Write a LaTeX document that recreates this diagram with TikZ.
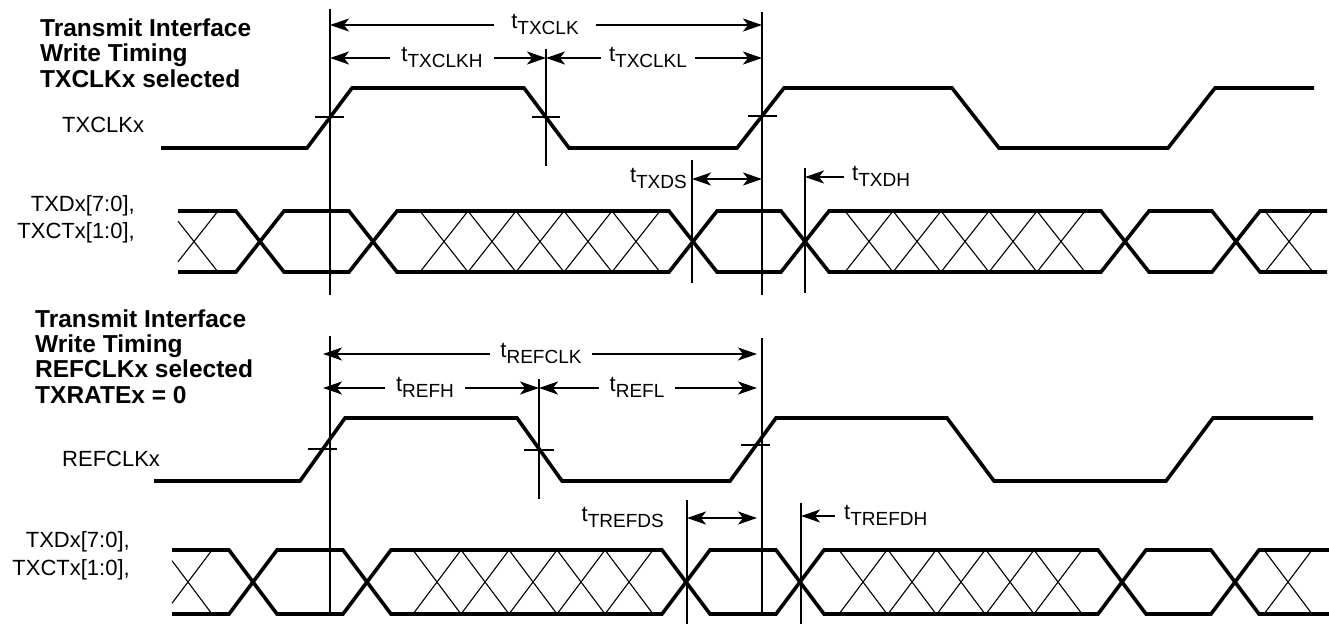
\documentclass[tikz,border=0pt]{standalone}
\usepackage{fontspec}
\setmainfont{Liberation Sans}
\usetikzlibrary{arrows.meta}

\tikzset{
  wave/.style={line width=3.6pt},
  hatch/.style={line width=1.1pt},
  guide/.style={line width=1.8pt},
  edgetick/.style={line width=1.6pt},
  dim/.style={line width=1.8pt,->},
  dimboth/.style={line width=1.8pt,<->},
  title/.style={font=\fontsize{24.5}{25.3}\selectfont\bfseries,align=left,anchor=base west,inner sep=0pt},
  sig/.style={font=\fontsize{22}{27.5}\selectfont,inner sep=0pt},
  tlabel/.style={font=\fontsize{22}{22}\selectfont,inner sep=0pt,text height=10pt,text depth=4pt}
}
\newcommand{\tsub}[1]{t\raisebox{-6pt}{\fontsize{19}{19}\selectfont #1}}

\begin{document}
\begin{tikzpicture}[x=1pt,y=-1pt,>={Stealth[length=19pt,width=13pt,inset=5pt]}]
        \useasboundingbox (0,0) rectangle (1329,624);

        % TXCLKx selected
        \node[title] (ttl1) at (40,87) {Transmit Interface\\Write Timing\\TXCLKx selected};
        \node[sig,anchor=base west] (ltxclk) at (62,132.7) {TXCLKx};
        \node[sig,anchor=base east,align=right] (ltxd) at (135,238.5) {TXDx[7:0],\\TXCTx[1:0],};

        \coordinate (r1) at (330,9);
        \coordinate (f1) at (546,49);
        \coordinate (r2) at (762,12);
        \coordinate (ds) at (692,160);
        \coordinate (dh) at (805,168);
        \draw[guide] (r1) -- (330,295);
        \draw[guide] (f1) -- (546,166);
        \draw[guide] (r2) -- (762,295);
        \draw[guide] (ds) -- (692,283);
        \draw[guide] (dh) -- (805,293);

        \draw[wave] (161,148) -- (307,148) -- (352,88) -- (524,88) -- (569,148) -- (737,148)
          -- (784,88) -- (952,88) -- (999,148) -- (1168,148) -- (1215,88) -- (1314,88);
        \draw[edgetick] (315,117) -- (344,117);
        \draw[edgetick] (532,117) -- (560,117);
        \draw[edgetick] (748,116) -- (777,116);

        \draw[wave] (178,211) -- (236,211) -- (284,272) -- (349,272) -- (397,211) -- (669,211) -- (717,272)
          -- (781,272) -- (829,211) -- (1101,211) -- (1149,272) -- (1212,272) -- (1260,211) -- (1327,211);
        \draw[wave] (178,272) -- (236,272) -- (284,211) -- (349,211) -- (397,272) -- (669,272) -- (717,211)
          -- (781,211) -- (829,272) -- (1101,272) -- (1149,211) -- (1212,211) -- (1260,272) -- (1327,272);
        \draw[hatch] (178,221.2) -- (218,272) (178,261.8) -- (218,211);
        \foreach \x in {420,468,516,564,612,845,893,941,989,1037,1265}
          \draw[hatch] (\x,211) -- ++(48,61) (\x,272) -- ++(48,-61);

        \node[tlabel,minimum width=101pt] (ttxclk) at (545,25) {\tsub{TXCLK}};
        \node[tlabel,minimum width=104pt] (ttxclkh) at (442,58) {\tsub{TXCLKH}};
        \node[tlabel,minimum width=94pt] (ttxclkl) at (648,58) {\tsub{TXCLKL}};
        \node[tlabel,anchor=east] (ttxds) at (687,179) {\tsub{TXDS}};
        \node[tlabel,anchor=west] (ttxdh) at (852,177) {\tsub{TXDH}};
        \draw[dim] (ttxclk.west) -- (ttxclk.west -| r1);
        \draw[dim] (ttxclk.east) -- (ttxclk.east -| r2);
        \draw[dim] (ttxclkh.west) -- (ttxclkh.west -| r1);
        \draw[dim] (ttxclkh.east) -- (ttxclkh.east -| f1);
        \draw[dim] (ttxclkl.west) -- (ttxclkl.west -| f1);
        \draw[dim] (ttxclkl.east) -- (ttxclkl.east -| r2);
        \draw[dimboth] (ttxds.east -| ds) -- (ttxds.east -| r2);
        \draw[dim] ([xshift=-8pt]ttxdh.west) -- (ttxdh.west -| dh);

        % REFCLKx selected
        \node[title] (ttl2) at (35,403) {Transmit Interface\\Write Timing\\REFCLKx selected\\TXRATEx = 0};
        \node[sig,anchor=base west] (lrefclk) at (62,466.5) {REFCLKx};
        \node[sig,anchor=base east,align=right] (lrefd) at (130,575) {TXDx[7:0],\\TXCTx[1:0],};

        \coordinate (br1) at (330,336);
        \coordinate (bf1) at (539,379);
        \coordinate (br2) at (762,338);
        \coordinate (bds) at (687,500);
        \coordinate (bdh) at (801,503);
        \coordinate (hl) at (323,354);
        \coordinate (hr) at (757,354);
        \draw[guide] (br1) -- (330,614);
        \draw[guide] (bf1) -- (539,499);
        \draw[guide] (br2) -- (762,613);
        \draw[guide] (bds) -- (687,624);
        \draw[guide] (bdh) -- (801,624);

        \draw[wave] (154,481) -- (300,481) -- (345,418) -- (517,418) -- (562,481) -- (730,481)
          -- (776,418) -- (947,418) -- (994,481) -- (1166,481) -- (1213,418) -- (1313,418);
        \draw[edgetick] (308,449) -- (337,449);
        \draw[edgetick] (524,450) -- (554,450);
        \draw[edgetick] (741,445) -- (770,445);

        \draw[wave] (172,550) -- (229,550) -- (277,614) -- (343,614) -- (391,550) -- (662,550) -- (710,614)
          -- (776,614) -- (824,550) -- (1098,550) -- (1146,614) -- (1211,614) -- (1259,550) -- (1329,550);
        \draw[wave] (172,614) -- (229,614) -- (277,550) -- (343,550) -- (391,614) -- (662,614) -- (710,550)
          -- (776,550) -- (824,614) -- (1098,614) -- (1146,550) -- (1211,550) -- (1259,614) -- (1329,614);
        \draw[hatch] (172,560.7) -- (212,614) (172,603.3) -- (212,550);
        \foreach \x in {413,461,509,557,605,839,888,937,986,1034,1264}
          \draw[hatch] (\x,550) -- ++(48,64) (\x,614) -- ++(48,-64);

        \node[tlabel,minimum width=102pt] (trefclk) at (541,354) {\tsub{REFCLK}};
        \node[tlabel,minimum width=80pt] (trefh) at (425,388) {\tsub{REFH}};
        \node[tlabel,minimum width=76pt] (trefl) at (637,388) {\tsub{REFL}};
        \node[tlabel,anchor=east] (ttrefds) at (664,518) {\tsub{TREFDS}};
        \node[tlabel,anchor=west] (ttrefdh) at (844,516) {\tsub{TREFDH}};
        \draw[dim] (trefclk.west) -- (trefclk.west -| hl);
        \draw[dim] (trefclk.east) -- (trefclk.east -| hr);
        \draw[dim] (trefh.west) -- (trefh.west -| hl);
        \draw[dim] (trefh.east) -- (trefh.east -| bf1);
        \draw[dim] (trefl.west) -- (trefl.west -| bf1);
        \draw[dim] (trefl.east) -- (trefl.east -| hr);
        \draw[dimboth] (ttrefds.east -| bds) -- (ttrefds.east -| hr);
        \draw[dim] ([xshift=-9pt]ttrefdh.west) -- (ttrefdh.west -| bdh);
\end{tikzpicture}
\end{document}
